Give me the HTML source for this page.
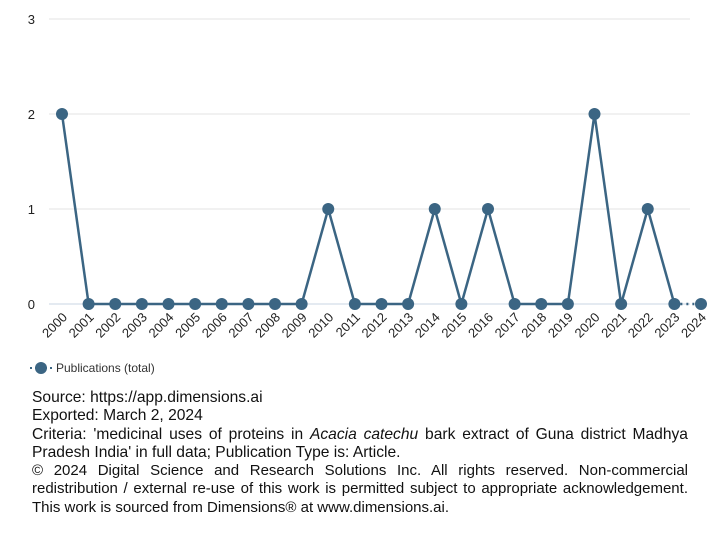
<!DOCTYPE html>
<html><head><meta charset="utf-8"><style>
body{margin:0;width:728px;height:542px;background:#fff;font-family:"Liberation Sans",sans-serif;overflow:hidden}
#foot{position:absolute;left:32px;top:389px;width:656px;font-size:15.6px;line-height:18.3px;color:#111}
.j{text-align:justify;text-align-last:left}
.c{font-size:15px}
</style></head><body>
<svg id="chart" width="728" height="385" style="position:absolute;left:0;top:0"></svg>
<div id="foot">
<div>Source: https://app.dimensions.ai</div>
<div>Exported: March 2, 2024</div>
<div class="j">Criteria: 'medicinal uses of proteins in <i>Acacia catechu</i> bark extract of Guna district Madhya Pradesh India' in full data; Publication Type is: Article.</div>
<div class="j c">© 2024 Digital Science and Research Solutions Inc. All rights reserved. Non-commercial redistribution / external re-use of this work is permitted subject to appropriate acknowledgement. This work is sourced from Dimensions® at www.dimensions.ai.</div>
</div>
<script>
const years=["2000","2001","2002","2003","2004","2005","2006","2007","2008","2009","2010","2011","2012","2013","2014","2015","2016","2017","2018","2019","2020","2021","2022","2023","2024"];
const pubs=[2,0,0,0,0,0,0,0,0,0,1,0,0,0,1,0,1,0,0,0,2,0,1,0,0];
const yTicks=[0,1,2,3];
const NS="http://www.w3.org/2000/svg";
const svg=document.getElementById('chart');
const x=i=>62+i*(701-62)/(years.length-1);
const y=v=>304-v*95;
function mk(t,a,p){const e=document.createElementNS(NS,t);for(const k in a)e.setAttribute(k,a[k]);(p||svg).appendChild(e);return e;}
yTicks.forEach(v=>{
 const l=mk('line',{x1:49,x2:690,y1:y(v),y2:y(v),stroke:v===0?'#c8d4e3':'#e3e3e3','stroke-width':1});
 
 
 const t=mk('text',{x:35,y:y(v)+5,'font-size':13,fill:'#222','text-anchor':'end','font-family':'Liberation Sans'});
 t.textContent=v;
 
 
});
years.forEach((yr,i)=>{
 const t=mk('text',{x:0,y:0,'font-size':13,fill:'#222','text-anchor':'end','font-family':'Liberation Sans',transform:`translate(${x(i)+6},${y(0)+14}) rotate(-45)`});
 t.textContent=yr;
 
 
});
const C='#3b6583';
for(let i=0;i<pubs.length-1;i++){
 const last=i===pubs.length-2;
 const s=mk('line',{x1:x(i),y1:y(pubs[i]),x2:x(i+1),y2:y(pubs[i+1]),stroke:C,'stroke-width':2.5});
 if(last)s.setAttribute('stroke-dasharray','2,4');
 
 
}
pubs.forEach((v,i)=>{
 const c=mk('circle',{cx:x(i),cy:y(v),r:6,fill:C});
 
 
});
const g=mk('g',{});


mk('line',{x1:30,x2:52,y1:368,y2:368,stroke:C,'stroke-width':2,'stroke-dasharray':'2,3'},g);
mk('circle',{cx:41,cy:368,r:6,fill:C},g);
const lt=mk('text',{x:56,y:372,'font-size':12,fill:'#333','font-family':'Liberation Sans'},g);
lt.textContent='Publications (total)';
</script>
</body></html>
